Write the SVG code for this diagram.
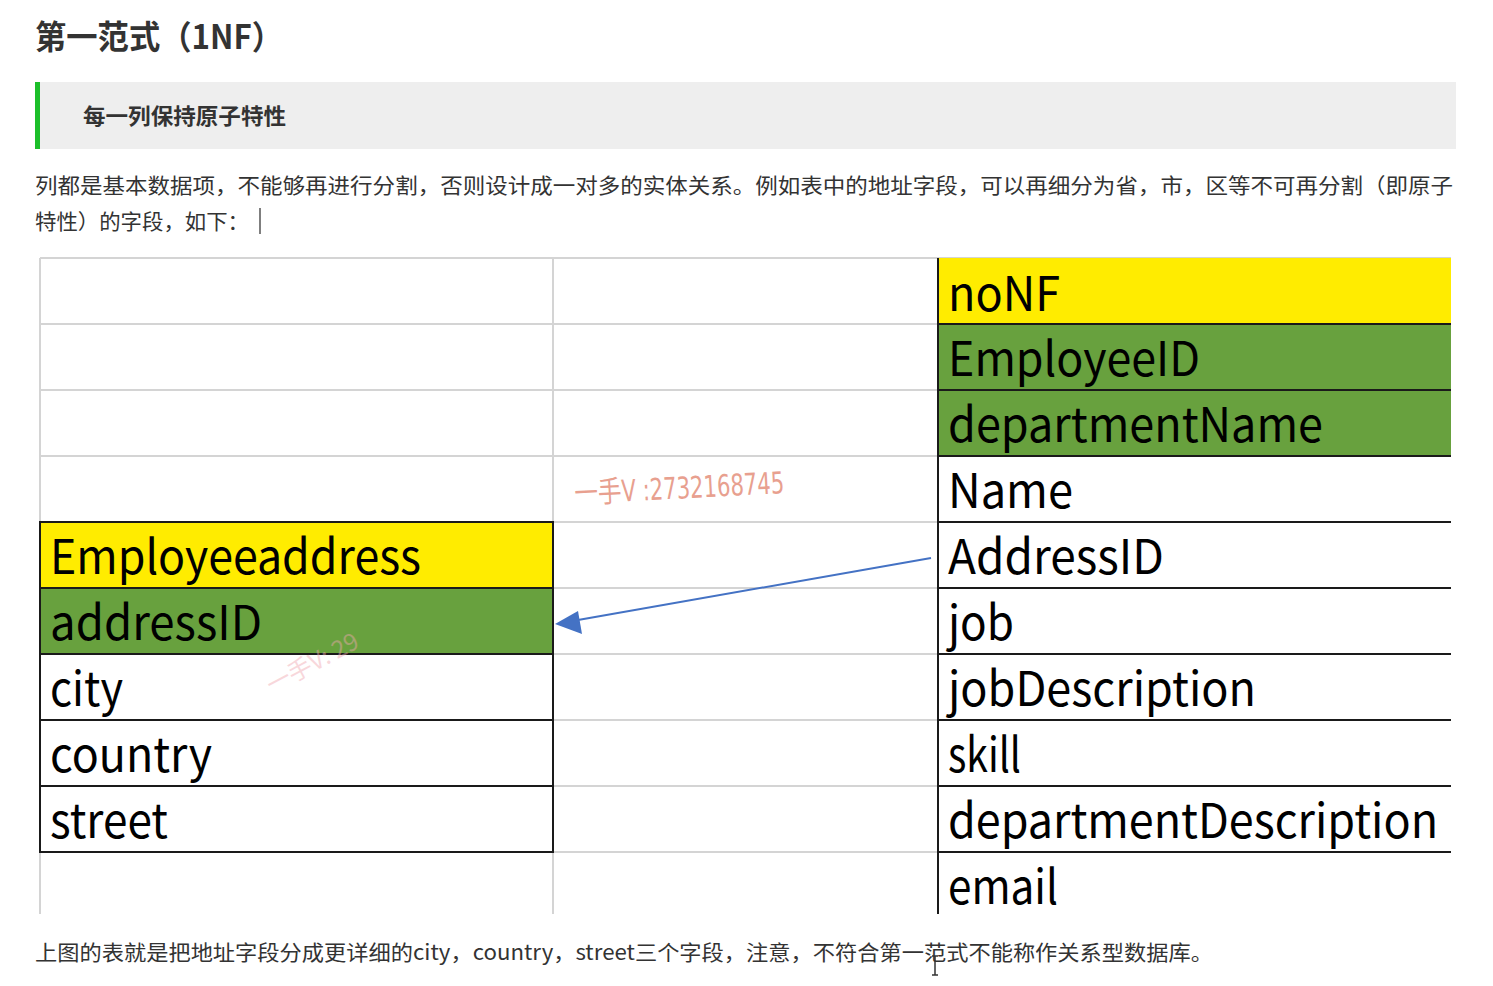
<svg xmlns="http://www.w3.org/2000/svg" width="1493" height="986" viewBox="0 0 1493 986">
<style>
.cjk{font-family:"Noto Sans CJK SC","Noto Sans",sans-serif;fill:#333}
.cell{font-family:"Noto Sans CJK SC","Noto Sans",sans-serif;font-size:48px;fill:#000}
.grid{stroke:#d4d4d4;stroke-width:2;fill:none}
.blk{stroke:#1a1a1a;stroke-width:2;fill:none}
.yel{fill:#ffec00}
.grn{fill:#68a13e}
</style>
<rect width="1493" height="986" fill="#fff"/>
<g id="title">
<text class="cjk" x="35" y="49" font-size="33" font-weight="bold" fill="#333" textLength="248" lengthAdjust="spacingAndGlyphs">第一范式（1NF）</text>
</g>
<g id="quote">
<rect x="35" y="82" width="1421" height="67" fill="#eeeeee"/>
<rect x="35" y="82" width="5" height="67" fill="#1cbf2a"/>
<text class="cjk" x="83" y="124" font-size="22" font-weight="bold" fill="#222" textLength="203" lengthAdjust="spacingAndGlyphs">每一列保持原子特性</text>
</g>
<g id="para">
<text class="cjk" x="35" y="193" font-size="21" textLength="1418" lengthAdjust="spacingAndGlyphs" fill="#444">列都是基本数据项，不能够再进行分割，否则设计成一对多的实体关系。例如表中的地址字段，可以再细分为省，市，区等不可再分割（即原子</text>
<text class="cjk" x="35" y="229" font-size="21" textLength="214" lengthAdjust="spacingAndGlyphs" fill="#444">特性）的字段，如下：</text>
<line x1="260" y1="208" x2="260" y2="234" stroke="#555" stroke-width="1.5"/>
</g>
<g id="grid">
<path class="grid" d="M40 258H1451M40 324H938M40 390H938M40 456H938M40 522H938M40 588H938M40 654H938M40 720H938M40 786H938M40 852H938M40 258V914M553 258V914"/>
</g>
<g id="noNF-table">
<rect class="yel" x="938" y="258" width="513" height="66"/>
<rect class="grn" x="938" y="324" width="513" height="132"/>
<path class="blk" d="M938 258V914M938 324H1451M938 390H1451M938 456H1451M938 522H1451M938 588H1451M938 654H1451M938 720H1451M938 786H1451M938 852H1451"/>
<text class="cell" x="948" y="311" textLength="112" lengthAdjust="spacingAndGlyphs">noNF</text>
<text class="cell" x="948" y="376" textLength="252" lengthAdjust="spacingAndGlyphs">EmployeeID</text>
<text class="cell" x="948" y="442" textLength="375" lengthAdjust="spacingAndGlyphs">departmentName</text>
<text class="cell" x="948" y="508" textLength="125" lengthAdjust="spacingAndGlyphs">Name</text>
<text class="cell" x="948" y="574" textLength="216" lengthAdjust="spacingAndGlyphs">AddressID</text>
<text class="cell" x="948" y="640" textLength="66" lengthAdjust="spacingAndGlyphs">job</text>
<text class="cell" x="948" y="706" textLength="308" lengthAdjust="spacingAndGlyphs">jobDescription</text>
<text class="cell" x="948" y="772" textLength="73" lengthAdjust="spacingAndGlyphs">skill</text>
<text class="cell" x="948" y="838" textLength="490" lengthAdjust="spacingAndGlyphs">departmentDescription</text>
<text class="cell" x="948" y="904" textLength="110" lengthAdjust="spacingAndGlyphs">email</text>
</g>
<g id="address-table">
<rect class="yel" x="40" y="522" width="513" height="66"/>
<rect class="grn" x="40" y="588" width="513" height="66"/>
<path class="blk" d="M40 522H553V852H40ZM40 588H553M40 654H553M40 720H553M40 786H553"/>
<text class="cell" x="50" y="574" textLength="371" lengthAdjust="spacingAndGlyphs">Employeeaddress</text>
<text class="cell" x="50" y="640" textLength="212" lengthAdjust="spacingAndGlyphs">addressID</text>
<text class="cell" x="50" y="706" textLength="73" lengthAdjust="spacingAndGlyphs">city</text>
<text class="cell" x="50" y="772" textLength="162" lengthAdjust="spacingAndGlyphs">country</text>
<text class="cell" x="50" y="838" textLength="118" lengthAdjust="spacingAndGlyphs">street</text>
</g>
<g id="connectors">
<line x1="931" y1="558" x2="578" y2="620" stroke="#4472c4" stroke-width="2"/>
<polygon points="555,624 578,611 582,634" fill="#4472c4"/>
</g>
<g id="watermarks">
<text x="575" y="504" font-family="'Liberation Sans Narrow','DejaVu Sans Condensed','Noto Sans CJK SC',sans-serif" font-size="30" fill="#e8a08f" textLength="210" lengthAdjust="spacingAndGlyphs" transform="rotate(-3 575 504)">一手V :2732168745</text>
<text x="272" y="694" font-family="'Noto Sans CJK SC',sans-serif" font-size="24" fill="#f0a8b0" opacity="0.45" transform="rotate(-28 272 694)">一手V: 29</text>
</g>
<g id="footer">
<text class="cjk" x="35" y="960" font-size="21" textLength="1178" lengthAdjust="spacingAndGlyphs" fill="#444">上图的表就是把地址字段分成更详细的city，country，street三个字段，注意，不符合第一范式不能称作关系型数据库。</text>
<path d="M932 956H938M935 956V975M932 975H938" stroke="#333" stroke-width="1.5" fill="none"/>
</g>
</svg>
